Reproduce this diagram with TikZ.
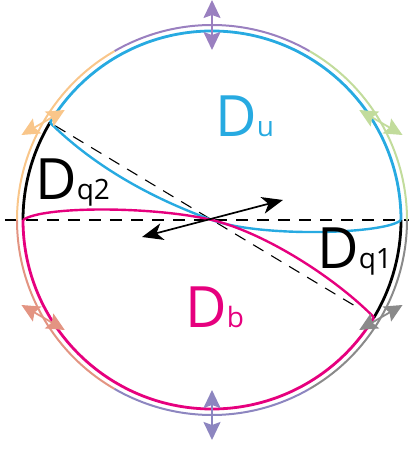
\documentclass[tikz,border=0pt]{standalone}
\usepackage{fontspec}
\setmainfont{Open Sans}
\usetikzlibrary{arrows.meta}

\definecolor{azul}{HTML}{27AAE1}
\definecolor{rosa}{HTML}{E6007E}
\definecolor{morado}{HTML}{9A80C0}
\definecolor{verde}{HTML}{C2DC9C}
\definecolor{naranja}{HTML}{F9C68A}
\definecolor{salmon}{HTML}{E39482}
\definecolor{lavanda}{HTML}{8D86C0}
\definecolor{gris}{HTML}{8A8A8A}

\newcommand{\subind}[1]{{\fontsize{28}{30}\selectfont #1}}

\tikzset{
  borde/.style={line width=2.8pt},
  curva/.style={line width=2.4pt},
  anillo/.style={line width=2pt},
  guia/.style={line width=1.1pt, dash pattern=on 12pt off 9pt},
  punta/.tip={Stealth[length=18pt,width=17pt,inset=3pt]},
  puntanegra/.tip={Stealth[length=21pt,width=17pt,inset=6pt]},
  etiqueta/.style={inner sep=0pt, anchor=base west, font=\fontsize{57}{60}\selectfont},
}

\begin{document}
\begin{tikzpicture}[x=1pt, y=1pt]
  \useasboundingbox (-212,-234) rectangle (197,220);
  \pgfmathsetmacro{\R}{189}   % radio del disco
  \pgfmathsetmacro{\Ro}{195}  % radio del anillo exterior

  % Puntos sobre la circunferencia
  \coordinate (O) at (0,0);
  \coordinate (p2) at (149:\R);
  \coordinate (p1) at (-31:\R);
  \coordinate (izq) at (180:\R);
  \coordinate (der) at (0:\R);

  % Rectas auxiliares
  \draw[guia] (-207,0) -- (197,0);
  \draw[guia] (149:183) -- (-31:171);

  % Anillo exterior por tramos de 60 grados
  \foreach \ini/\col in {0/verde,60/morado,120/naranja,180/salmon,240/lavanda,300/gris} {
    \draw[anillo,\col] (\ini:\Ro) arc[start angle=\ini, end angle=\ini+60, radius=\Ro];
  }

  % Borde del disco
  \draw[borde,azul] (der) arc[start angle=0, end angle=149, radius=\R];
  \draw[borde] (p2) arc[start angle=149, end angle=180, radius=\R];
  \draw[borde,rosa] (izq) arc[start angle=180, end angle=329, radius=\R];
  \draw[borde] (p1) arc[start angle=-31, end angle=0, radius=\R];

  % Curvas interiores
  \draw[curva,azul] (p2) .. controls (-112,48) and (-50,18) .. (O)
    .. controls (50,-18) and (175,-14) .. (der);
  \draw[curva,rosa] (izq) .. controls (-170,14) and (-60,14) .. (O)
    .. controls (50,-12) and (120,-55) .. (p1);

  % Flecha doble central
  \coordinate (fa) at (-70,-17);
  \coordinate (fb) at (71,20);
  \draw[line width=1.7pt, puntanegra-puntanegra] (fa) -- (fb);

  % Flechas dobles del anillo (direccion 2*ang-90)
  \foreach \ang/\col in {30/verde,90/morado,150/naranja,210/salmon,270/lavanda,330/gris} {
    \pgfmathsetmacro{\dir}{2*\ang-90}
    \draw[\col, line width=1.8pt, punta-punta]
      (\ang:\Ro) ++(\dir:-25) -- ++(\dir:50);
  }

  % Etiquetas de las regiones
  \node[etiqueta,text=azul] (Du) at (3,83) {D\subind{u}};
  \node[etiqueta] (Dq2) at (-177,20) {D\subind{q2}};
  \node[etiqueta] (Dq1) at (105,-49) {D\subind{q1}};
  \node[etiqueta,text=rosa] (Db) at (-27,-107) {D\subind{b}};
\end{tikzpicture}
\end{document}
